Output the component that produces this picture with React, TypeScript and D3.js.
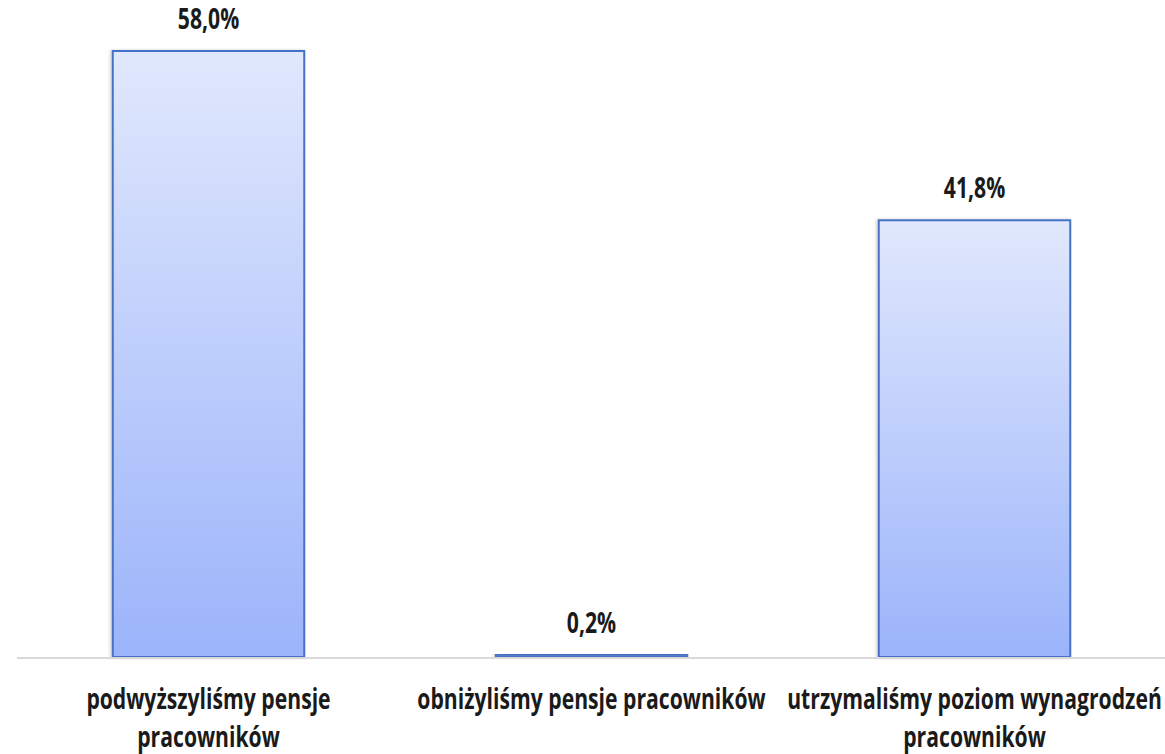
import React, { useEffect, useMemo } from 'react'
import * as d3 from 'd3'

// dane z wykresu
const categories = [
  ['podwyższyliśmy pensje', 'pracowników'],
  ['obniżyliśmy pensje pracowników'],
  ['utrzymaliśmy poziom wynagrodzeń', 'pracowników'],
]
const values = [0.58, 0.002, 0.418]
const valueLabels = ['58,0%', '0,2%', '41,8%']

const WIDTH = 1165
const HEIGHT = 754
const FONT = '"Open Sans", "Noto Sans", sans-serif'
const SX = 0.73

export default function App() {
  useEffect(() => {
    document.body.style.margin = '0'
  }, [])

  const x = useMemo(
    () => d3.scaleBand<number>().domain(d3.range(categories.length)).range([17, 1166]).paddingInner(0.5).paddingOuter(0.25),
    []
  )
  const y = useMemo(() => d3.scaleLinear().domain([0, 0.6]).range([657, 30.1]), [])

  return (
    <svg width={WIDTH} height={HEIGHT} style={{ display: 'block', background: '#fff' }}>
      <defs>
        <linearGradient id="barGrad" x1="0" y1="0" x2="0" y2="1">
          <stop offset="0%" stopColor="#e1e8fd" />
          <stop offset="100%" stopColor="#9bb4fa" />
        </linearGradient>
        <filter id="shadow" x="-10%" y="-10%" width="120%" height="120%">
          <feDropShadow dx="-1.5" dy="0" stdDeviation="1.5" floodColor="#000" floodOpacity="0.18" />
        </filter>
      </defs>

      {values.map((v, i) => {
        const bx = x(i)!
        const by = y(v)
        return (
          <rect
            key={i}
            x={bx}
            y={by}
            width={x.bandwidth()}
            height={y(0) - by}
            fill="url(#barGrad)"
            stroke="#4472c4"
            strokeWidth={2}
            filter="url(#shadow)"
          />
        )
      })}

      {/* oś X */}
      <line x1={17} x2={1166} y1={658} y2={658} stroke="#d9d9d9" strokeWidth={2} />

      {values.map((v, i) => (
        <g key={'v' + i} transform={`translate(${x(i)! + x.bandwidth() / 2},${y(v) - 22}) scale(${SX},1)`}>
          <text textAnchor="middle" fontFamily={FONT} fontWeight={700} fontSize={29} fill="#1a1a1a">
            {valueLabels[i]}
          </text>
        </g>
      ))}

      {categories.map((lines, i) =>
        lines.map((line, j) => (
          <g key={'c' + i + j} transform={`translate(${x(i)! + x.bandwidth() / 2},${709 + j * 38}) scale(${SX},1)`}>
            <text textAnchor="middle" fontFamily={FONT} fontWeight={700} fontSize={29} fill="#1a1a1a">
              {line}
            </text>
          </g>
        ))
      )}
    </svg>
  )
}
